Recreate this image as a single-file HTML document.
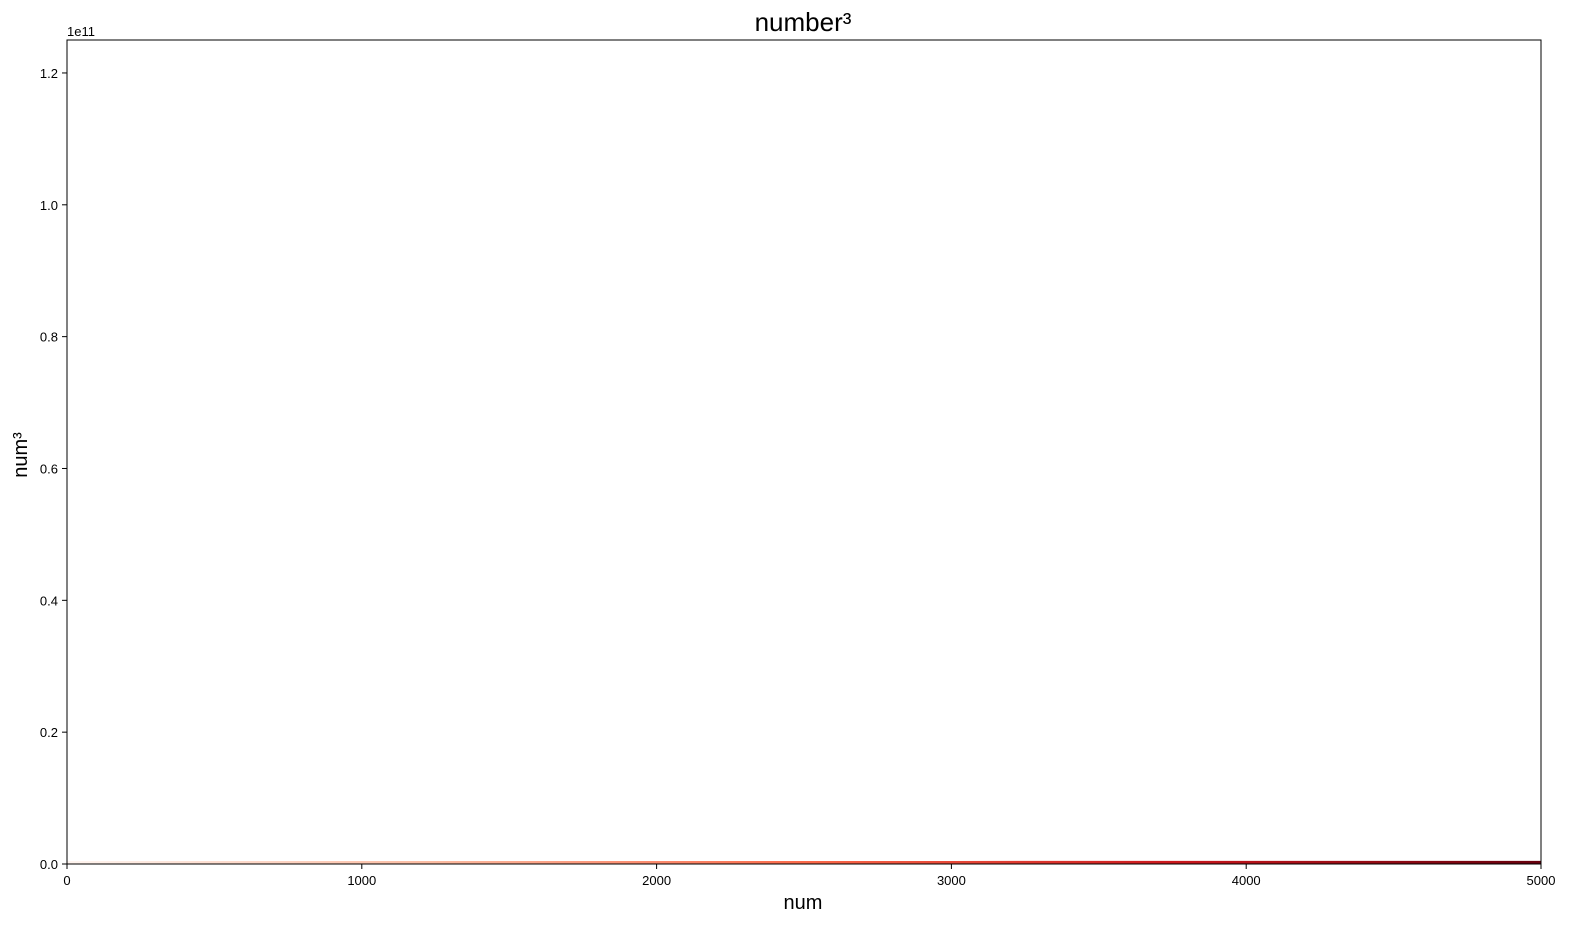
<!DOCTYPE html>
<html><head><meta charset="utf-8"><style>
body{margin:0;background:#fff;font-family:"Liberation Sans","DejaVu Sans",sans-serif}
</style></head><body>
<svg width="1582" height="931" xmlns="http://www.w3.org/2000/svg">
<defs><linearGradient id="g" x1="0" x2="1" y1="0" y2="0">
<stop offset="0" stop-color="#fff5f0"/><stop offset="0.25" stop-color="#fcbba1"/><stop offset="0.5" stop-color="#fb6a4a"/><stop offset="0.75" stop-color="#cb181d"/><stop offset="1" stop-color="#67000d"/></linearGradient></defs>
<text x="803" y="31" text-anchor="middle" font-size="26">number³</text>
<g id="plot"></g>
<rect x="67" y="40" width="1474" height="824" fill="none" stroke="#000" stroke-width="1"/>
<text x="67" y="36" font-size="13">1e11</text>
<text x="803" y="909" text-anchor="middle" font-size="20">num</text>
<text transform="translate(27,455) rotate(-90)" text-anchor="middle" font-size="20">num³</text>
<g id="xt"></g><g id="yt"></g>
</svg>
<script>
const xs=[0,500,1000,1500,2000,2500,3000,3500,4000,4500,5000];
const ys=[0,250000,1000000,2250000,4000000,6250000,9000000,12250000,16000000,20250000,25000000];
const xTicks=[0,1000,2000,3000,4000,5000];
const yTicks=[0,0.2,0.4,0.6,0.8,1.0,1.2];
const X=v=>67+v/5000*1474, Y=v=>864-v/1.25e11*824;
const NS="http://www.w3.org/2000/svg";
const plot=document.getElementById('plot');
const p=document.createElementNS(NS,'path');


let d='';xs.forEach((x,i)=>{d+=(i?'L':'M')+X(x)+' '+(Y(ys[i])-1.5)});
p.setAttribute('d',d);p.setAttribute('stroke','url(#g)');p.setAttribute('stroke-width','3');p.setAttribute('fill','none');
plot.appendChild(p);
const xt=document.getElementById('xt');
xTicks.forEach(t=>{const l=document.createElementNS(NS,'line');


l.setAttribute('x1',X(t));l.setAttribute('x2',X(t));l.setAttribute('y1',864);l.setAttribute('y2',869);l.setAttribute('stroke','#000');xt.appendChild(l);
const s=document.createElementNS(NS,'text');


s.setAttribute('x',X(t));s.setAttribute('y',885);s.setAttribute('text-anchor','middle');s.setAttribute('font-size','13');s.textContent=t;xt.appendChild(s);});
const yt=document.getElementById('yt');
yTicks.forEach(t=>{const v=t*1e11;const l=document.createElementNS(NS,'line');


l.setAttribute('x1',62);l.setAttribute('x2',67);l.setAttribute('y1',Y(v));l.setAttribute('y2',Y(v));l.setAttribute('stroke','#000');yt.appendChild(l);
const s=document.createElementNS(NS,'text');


s.setAttribute('x',58);s.setAttribute('y',Y(v)+5);s.setAttribute('text-anchor','end');s.setAttribute('font-size','13');s.textContent=t.toFixed(1);yt.appendChild(s);});
</script>
</body></html>
